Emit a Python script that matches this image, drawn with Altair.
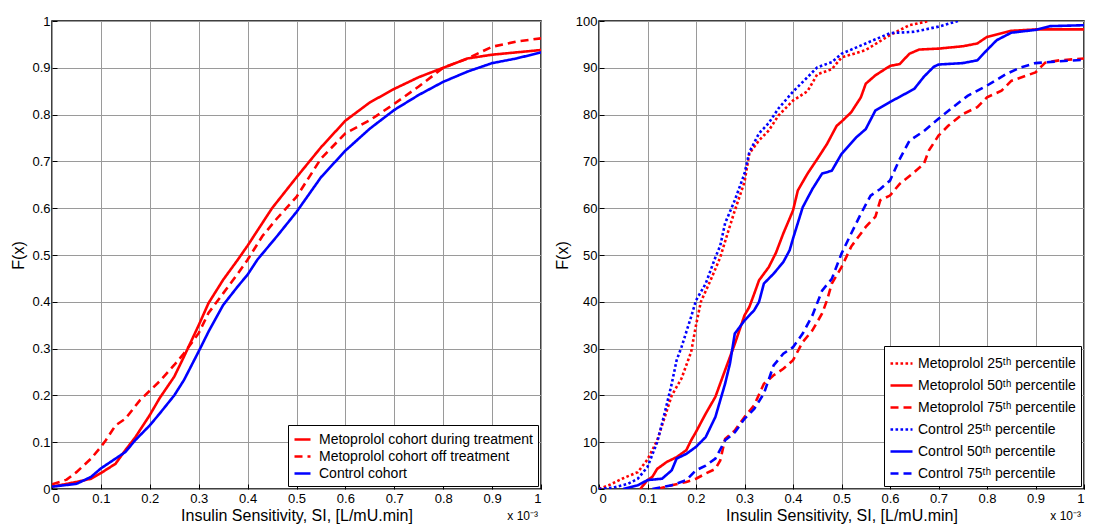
import altair as alt
import pandas as pd

# ---------------- Left panel data (x in units of 1e-3) ----------------
during_x = [0, 0.05, 0.08, 0.1, 0.13, 0.15, 0.17, 0.2, 0.22, 0.25, 0.27, 0.3, 0.32, 0.35, 0.38, 0.4,
            0.45, 0.5, 0.55, 0.6, 0.65, 0.7, 0.75, 0.8, 0.85, 0.9, 0.95, 1.0]
during_f = [0.005, 0.015, 0.022, 0.034, 0.054, 0.083, 0.11, 0.158, 0.194, 0.24, 0.283, 0.35, 0.397, 0.447, 0.49, 0.52,
            0.6, 0.666, 0.73, 0.787, 0.826, 0.855, 0.88, 0.9, 0.92, 0.928, 0.933, 0.938]

off_x = [0, 0.03, 0.05, 0.08, 0.1, 0.11, 0.13, 0.15, 0.18, 0.2, 0.22, 0.25, 0.27, 0.3, 0.32, 0.35, 0.38, 0.4,
         0.43, 0.46, 0.5, 0.55, 0.6, 0.65, 0.7, 0.75, 0.8, 0.85, 0.9, 0.95, 1.0]
off_f = [0.01, 0.02, 0.036, 0.065, 0.09, 0.104, 0.136, 0.15, 0.19, 0.21, 0.23, 0.265, 0.29, 0.333, 0.376, 0.418, 0.46, 0.49,
         0.54, 0.578, 0.624, 0.706, 0.76, 0.788, 0.823, 0.86, 0.9, 0.92, 0.945, 0.956, 0.963]

ctrl_x = [0, 0.05, 0.08, 0.1, 0.13, 0.15, 0.17, 0.2, 0.22, 0.25, 0.27, 0.3, 0.32, 0.35, 0.38, 0.4, 0.42,
          0.46, 0.5, 0.55, 0.6, 0.65, 0.7, 0.75, 0.8, 0.85, 0.9, 0.95, 1.0]
ctrl_f = [0.005, 0.011, 0.026, 0.044, 0.065, 0.079, 0.104, 0.136, 0.161, 0.2, 0.233, 0.294, 0.336, 0.393, 0.433, 0.458, 0.49,
          0.54, 0.592, 0.666, 0.723, 0.77, 0.81, 0.842, 0.87, 0.892, 0.91, 0.92, 0.933]

left_names = ["Metoprolol cohort during treatment", "Metoprolol cohort off treatment", "Control cohort"]

# ---------------- Right panel data (percent) ----------------
m25_x = [0, 0.02, 0.05, 0.08, 0.1, 0.12, 0.14, 0.15, 0.17, 0.19, 0.2, 0.21, 0.23, 0.25, 0.265, 0.28, 0.3, 0.31,
         0.33, 0.35, 0.37, 0.4, 0.43, 0.45, 0.48, 0.5, 0.55, 0.6, 0.64, 0.68]
m25_f = [0, 0.8, 2.3, 3.6, 6.3, 10.4, 16.8, 20, 23.6, 29.3, 35, 40, 44.6, 49.5, 54.6, 59.5, 65.6, 71.7,
         74.5, 76.6, 79.8, 83, 85, 88.6, 89.7, 92.2, 93.8, 97, 99.1, 100]

m50_x = [0.085, 0.1, 0.11, 0.12, 0.14, 0.16, 0.18, 0.19, 0.2, 0.22, 0.24, 0.26, 0.28, 0.3, 0.31, 0.32, 0.33, 0.35,
         0.365, 0.38, 0.4, 0.41, 0.43, 0.45, 0.47, 0.49, 0.5, 0.52, 0.54, 0.55, 0.57, 0.6, 0.62, 0.64, 0.66, 0.7,
         0.75, 0.78, 0.8, 0.85, 0.9, 1.0]
m50_f = [0, 1.9, 2.6, 4.3, 5.8, 6.8, 8.3, 10.4, 12.2, 16.1, 19.7, 25.4, 31, 37.1, 38.9, 41.7, 44.6, 47.4,
         50.5, 54.6, 59.5, 63.8, 67.4, 70.5, 73.7, 77.6, 78.5, 80.5, 83.7, 86.6, 88.4, 90.4, 90.8, 93, 93.9, 94.1,
         94.6, 95.2, 96.6, 97.9, 98.2, 98.2]

m75_x = [0.12, 0.15, 0.18, 0.2, 0.22, 0.24, 0.25, 0.26, 0.28, 0.3, 0.32, 0.34, 0.36, 0.38, 0.4, 0.42, 0.44, 0.46,
         0.47, 0.48, 0.5, 0.52, 0.55, 0.57, 0.58, 0.6, 0.62, 0.65, 0.67, 0.68, 0.7, 0.72, 0.75, 0.78, 0.8, 0.83,
         0.85, 0.88, 0.9, 0.92, 0.95, 1.0]
m75_f = [0, 0.8, 1.5, 2.2, 3.3, 4.3, 6.1, 10.7, 12.5, 15.4, 17.9, 22.5, 24.3, 25.7, 27.5, 31.4, 33.9, 37.5,
         40.3, 43.9, 47.4, 51.8, 56, 58.2, 61.7, 62.7, 65.2, 67.7, 69.5, 72.3, 75.5, 77.6, 80.1, 81.6, 83.7, 85.1,
         87.2, 88.3, 89, 91.1, 91.6, 92]

c25_x = [0, 0.03, 0.06, 0.08, 0.1, 0.12, 0.13, 0.14, 0.15, 0.16, 0.17, 0.19, 0.2, 0.22, 0.24, 0.25, 0.26, 0.28,
         0.3, 0.31, 0.33, 0.35, 0.37, 0.4, 0.43, 0.45, 0.48, 0.5, 0.55, 0.6, 0.65, 0.7, 0.74]
c25_f = [0, 0.3, 1.1, 2.2, 4.7, 10, 14, 18.2, 22.5, 27.5, 30.3, 36.8, 40.3, 43.9, 49.5, 52, 56.8, 61.7,
         67.4, 72, 76, 78.2, 81.3, 84.9, 88, 90.1, 91.2, 93, 95.2, 97.4, 97.7, 98.8, 100]

c50_x = [0.05, 0.08, 0.1, 0.13, 0.15, 0.16, 0.18, 0.2, 0.22, 0.24, 0.26, 0.27, 0.28, 0.3, 0.32, 0.33, 0.34, 0.36,
         0.38, 0.393, 0.4, 0.42, 0.44, 0.46, 0.48, 0.5, 0.53, 0.55, 0.57, 0.6, 0.62, 0.65, 0.67, 0.69, 0.7, 0.75,
         0.78, 0.8, 0.82, 0.85, 0.9, 0.93, 1.0]
c50_f = [0, 0.8, 1.9, 2.2, 4, 6.5, 7.5, 9, 11.1, 15.4, 22.5, 26.8, 33.2, 36, 38.2, 40, 43.9, 46,
         48.5, 51, 53.5, 60.2, 64.1, 67.4, 68, 71.6, 75.1, 76.9, 80.9, 82.7, 83.8, 85.5, 88.1, 90.2, 90.7, 91,
         91.6, 93.8, 95.9, 97.5, 98.1, 98.9, 99.1]

c75_x = [0.11, 0.15, 0.18, 0.2, 0.22, 0.24, 0.26, 0.28, 0.3, 0.32, 0.34, 0.36, 0.38, 0.4, 0.42, 0.44, 0.46, 0.48,
         0.5, 0.52, 0.54, 0.56, 0.58, 0.6, 0.62, 0.64, 0.67, 0.7, 0.73, 0.76, 0.8, 0.84, 0.87, 0.9, 0.95, 1.0]
c75_f = [0, 0.8, 1.9, 4, 5, 6.5, 10.4, 12.1, 15, 17.1, 20.4, 26.4, 28.9, 30.3, 33.2, 37.1, 42.4, 44.9,
         50.3, 54.6, 58.8, 62.7, 64.1, 65.9, 70.5, 74.4, 76.5, 79.1, 81.6, 84, 86.2, 88.7, 90.1, 91, 91.4, 91.7]

right_names = ["Metoprolol 25ᵗʰ percentile", "Metoprolol 50ᵗʰ percentile", "Metoprolol 75ᵗʰ percentile",
               "Control 25ᵗʰ percentile", "Control 50ᵗʰ percentile", "Control 75ᵗʰ percentile"]

x_ticks = [0, 0.1, 0.2, 0.3, 0.4, 0.5, 0.6, 0.7, 0.8, 0.9, 1.0]
left_y_ticks = [0, 0.1, 0.2, 0.3, 0.4, 0.5, 0.6, 0.7, 0.8, 0.9, 1.0]
right_y_ticks = [0, 10, 20, 30, 40, 50, 60, 70, 80, 90, 100]

RED = "#ff0000"
BLUE = "#0000ff"
FONT = "Liberation Sans"
DOT = [2.6, 2.4]
DASH = [8, 5]
TICK = 5


def frame(name_list, xs, fs):
    rows = []
    for name, xv, fv in zip(name_list, xs, fs):
        for a, b in zip(xv, fv):
            rows.append({"series": name, "x": a, "F": b})
    return pd.DataFrame(rows)


left_df = frame(left_names, [during_x, off_x, ctrl_x], [during_f, off_f, ctrl_f])
right_df = frame(right_names, [m25_x, m50_x, m75_x, c25_x, c50_x, c75_x],
                 [m25_f, m50_f, m75_f, c25_f, c50_f, c75_f])

W_L, W_R, H = 489, 485, 468


def legend(sym, row_pad, lab_off):
    return alt.Legend(title=None, orient="bottom-right", offset=3, fillColor="white",
                      strokeColor="black", padding=5, symbolType="stroke", symbolSize=sym,
                      symbolStrokeWidth=2.6, labelFont=FONT, labelFontSize=14, labelColor="black",
                      labelOffset=lab_off, rowPadding=row_pad, labelLimit=400, cornerRadius=0)


def panel(df, names, colors, dashes, yticks, yfmt, ydom, width, sym, row_pad, lab_off):
    xs = alt.Scale(domain=[0, 1], nice=False)
    ys = alt.Scale(domain=ydom, nice=False)
    lines = alt.Chart(df).mark_line(strokeWidth=2.6, clip=True, strokeCap="butt").encode(
        x=alt.X("x:Q", scale=xs,
                axis=alt.Axis(values=x_ticks, format=".1~f", title="Insulin Sensitivity, SI, [L/mU.min]",
                              labelPadding=3, titlePadding=2, offset=-TICK, tickSize=TICK,
                              domain=False, grid=True)),
        y=alt.Y("F:Q", scale=ys,
                axis=alt.Axis(values=yticks, format=yfmt, title="F(x)", labelPadding=2, titlePadding=5,
                              offset=-TICK, tickSize=TICK, domain=False, grid=True)),
        color=alt.Color("series:N", sort=names,
                        scale=alt.Scale(domain=names, range=colors), legend=legend(sym, row_pad, lab_off)),
        strokeDash=alt.StrokeDash("series:N", sort=names,
                                  scale=alt.Scale(domain=names, range=dashes),
                                  legend=legend(sym, row_pad, lab_off)),
        order=alt.Order("x:Q"),
    )
    note = alt.Chart(pd.DataFrame({"t": ["x 10⁻³"]})).mark_text(
        align="right", baseline="alphabetic", font=FONT, fontSize=12, color="black"
    ).encode(text="t:N", x=alt.value(width - 3), y=alt.value(H + 31))
    return alt.layer(lines, note).properties(width=width, height=H)


left = panel(left_df, left_names, [RED, RED, BLUE], [[1, 0], DASH, [1, 0]],
             left_y_ticks, ".1~f", [0, 1], W_L, 256, 0, 7)
right = panel(right_df, right_names, [RED, RED, RED, BLUE, BLUE, BLUE],
              [DOT, [1, 0], DASH, DOT, [1, 0], DASH], right_y_ticks, "d", [0, 100], W_R, 484, 2, 4)

chart = alt.hconcat(left, right, spacing=10).resolve_scale(
    color="independent", strokeDash="independent"
).resolve_legend(color="independent", strokeDash="independent").properties(
    padding={"left": 2, "top": 6, "right": 0, "bottom": 0}, background="white"
).configure_view(
    stroke="black", strokeWidth=1.5
).configure_axis(
    labelFont=FONT, titleFont=FONT, labelFontSize=13, titleFontSize=16,
    titleFontWeight="normal", labelColor="black", titleColor="black",
    tickColor="black", tickWidth=1,
    gridColor="#9a9a9a", gridWidth=1, gridOpacity=1,
)

chart.save("out.html", embed_options={"renderer": "svg", "actions": False})
